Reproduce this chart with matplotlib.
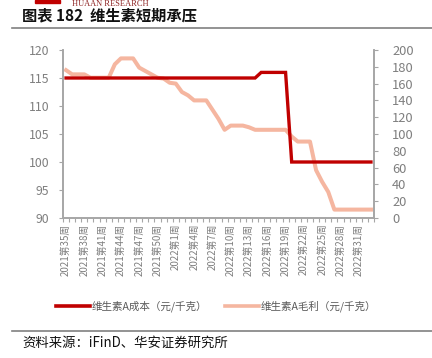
import matplotlib
matplotlib.use("Agg")
import matplotlib.pyplot as plt
from matplotlib.lines import Line2D
from matplotlib.patches import Rectangle

plt.rcParams['font.family'] = ['Noto Sans CJK SC', 'DejaVu Sans']

# weeks: 2021 W35-W52, 2022 W1-W33
weeks = ['2021第%d周' % w for w in range(35, 53)] + ['2022第%d周' % w for w in range(1, 34)]

cost = [115] * 32 + [116] * 5 + [100] * 14

margin = [176, 171, 171, 171, 167, 167, 167, 167, 183, 190,
          190, 190, 179, 175, 171, 167, 166, 161, 160, 150,
          146, 140, 140, 140, 129, 118, 105, 110, 110, 110,
          108, 105, 105, 105, 105, 105, 105, 97, 91, 91,
          91, 57, 43, 31, 10, 10, 10, 10, 10, 10, 10]

left_ticks = [90, 95, 100, 105, 110, 115, 120]
right_ticks = [0, 20, 40, 60, 80, 100, 120, 140, 160, 180, 200]

W, H = 432, 358
fig = plt.figure(figsize=(W / 100, H / 100), dpi=100)

grey = '#A6A6A6'
txt = '#595959'
tick_txt = '#7F7F7F'
red = '#C00000'
pink = '#F5B6A0'
x = list(range(len(weeks)))

ax = fig.add_axes([63 / W, 1 - 218 / H, (374 - 63) / W, (218 - 50) / H])
ax2 = ax.twinx()

ax.plot(x, cost, color=red, lw=2.4, solid_joinstyle='miter', zorder=3)
ax2.plot(x, margin, color=pink, lw=2.9, zorder=2)
ax.set_zorder(ax2.get_zorder() + 1)
ax.patch.set_visible(False)

ax.set_xlim(-0.5, len(weeks) - 0.5)
ax.set_ylim(90, 120)
ax2.set_ylim(0, 200)
ax.set_yticks(left_ticks)
ax2.set_yticks(right_ticks)

ax.set_xticks(x[::3])
ax.set_xticklabels(weeks[::3], rotation=90, fontsize=7, color=tick_txt)
ax.set_xticks([i - 0.5 for i in range(len(weeks) + 1)], minor=True)
ax.tick_params(axis='x', which='major', length=0, pad=4)
ax.tick_params(axis='x', which='minor', length=3, color=grey, width=0.8)
ax.tick_params(axis='y', length=3, color=grey, width=0.8, labelsize=8.8,
               labelcolor=tick_txt, pad=7)
ax2.tick_params(axis='y', length=3, color=grey, width=0.8, labelsize=9.3,
                labelcolor=tick_txt, pad=10)

for a in (ax, ax2):
    a.spines['top'].set_visible(False)
    for s in ('left', 'right', 'bottom'):
        a.spines[s].set_color(grey)
        a.spines[s].set_linewidth(1.2)

# header
fig.patches.append(Rectangle((35 / W, 1 - 3 / H), 25 / W, 3 / H, color=red,
                             transform=fig.transFigure, figure=fig))
fig.text(72 / W, 1 - 5.5 / H, 'HUAAN RESEARCH', fontsize=6, color='#8E2323',
         family='Liberation Serif', va='baseline', ha='left')
fig.text(22 / W, 1 - 15 / H, '图表 182  维生素短期承压', fontsize=11,
         fontweight='bold', va='center', ha='left', color='#111111')
fig.add_artist(Line2D([12 / W, 1], [1 - 28 / H] * 2, color='#808080', lw=1.2))

# legend
handles = [Line2D([], [], color=red, lw=2.6),
           Line2D([], [], color=pink, lw=2.6)]
fig.legend(handles, ['维生素A成本（元/千克）', '维生素A毛利（元/千克）'],
           loc='center', bbox_to_anchor=(0.5, 1 - 306 / H), ncol=2, frameon=False,
           fontsize=7.6, handlelength=3.2, columnspacing=1.7, handletextpad=0.15,
           labelcolor=txt)

# footer
fig.add_artist(Line2D([12 / W, 1], [1 - 331 / H] * 2, color='#808080', lw=1.2))
fig.text(22 / W, 1 - 343 / H, '资料来源：iFinD、华安证券研究所', fontsize=9.6,
         va='center', ha='left', color='#111111')

fig.savefig('out.png', dpi=100)
